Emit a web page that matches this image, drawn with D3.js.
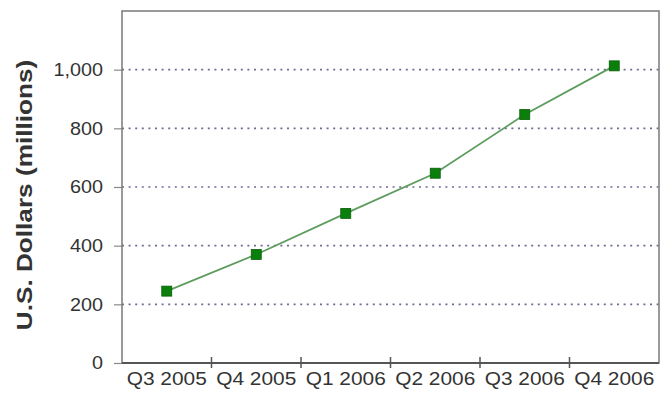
<!DOCTYPE html>
<html>
<head>
<meta charset="utf-8">
<script src="https://cdn.jsdelivr.net/npm/d3@7"></script>
<style>
  html, body { margin: 0; padding: 0; background: #fff; }
  svg { display: block; font-family: "Liberation Sans", Arial, sans-serif; }
</style>
</head>
<body>
<svg id="chart" width="670" height="394"></svg>
<script>
// Quarterly revenue, U.S. dollars (millions)
const quarters = ["Q3 2005", "Q4 2005", "Q1 2006", "Q2 2006", "Q3 2006", "Q4 2006"];
const revenue = [245, 370, 510, 647, 847, 1013];
const yTicks = [0, 200, 400, 600, 800, 1000];
const yMax = 1200;

const svg = d3.select("#chart");
const margin = { left: 122, right: 11, top: 11, bottom: 31 };
const W = 670, H = 394;
const innerW = W - margin.left - margin.right;
const innerH = H - margin.top - margin.bottom;

const x = d3.scaleBand().domain(quarters).range([0, innerW]);
const y = d3.scaleLinear().domain([0, yMax]).range([innerH, 0]);

const g = svg.append("g").attr("transform", `translate(${margin.left},${margin.top})`);

// dotted horizontal gridlines
g.append("g").selectAll("line")
  .data(yTicks.filter(d => d > 0))
  .join("line")
  .attr("x1", 0).attr("x2", innerW)
  .attr("y1", d => y(d)).attr("y2", d => y(d))
  .attr("stroke", "#6c6c96")
  .attr("stroke-width", 1.7)
  .attr("stroke-dasharray", "2,4.6");

// left axis: short outside ticks, wide-set labels
const yAxis = g.append("g")
  .call(d3.axisLeft(y).tickValues(yTicks).tickSize(8)
        .tickFormat(d3.format(",")));
yAxis.select(".domain").remove();
yAxis.selectAll(".tick line").attr("stroke", "#888").attr("stroke-width", 1.2);
yAxis.selectAll(".tick text")
  .attr("x", 0)
  .attr("transform", "translate(-19,0) scale(1.1,1)")
  .attr("fill", "#333")
  .style("font-size", "18px")
  .style("font-family", "'Liberation Sans', Arial, sans-serif");

// frame around the plot area
g.append("rect")
  .attr("x", 0).attr("y", 0).attr("width", innerW).attr("height", innerH)
  .attr("fill", "none").attr("stroke", "#7a7a7a").attr("stroke-width", 1.5);

// bottom axis: ticks sit on the band boundaries
const bounds = quarters.slice(1).map(q => x(q));
g.append("line")
  .attr("x1", 0).attr("x2", innerW).attr("y1", innerH).attr("y2", innerH)
  .attr("stroke", "#555").attr("stroke-width", 2);
g.append("g").selectAll("line")
  .data(bounds)
  .join("line")
  .attr("x1", d => d).attr("x2", d => d)
  .attr("y1", innerH - 6).attr("y2", innerH + 5)
  .attr("stroke", "#555").attr("stroke-width", 1.5);

g.append("g").selectAll("text")
  .data(quarters)
  .join("text")
  .attr("transform", d => `translate(${x(d) + x.bandwidth() / 2},${innerH + 22}) scale(1.16,1)`)
  .attr("text-anchor", "middle")
  .attr("fill", "#333")
  .style("font-size", "18px")
  .text(d => d);

// revenue line and square markers
const cx = d => x(d) + x.bandwidth() / 2;
const pts = quarters.map((q, i) => [cx(q), y(revenue[i])]);

g.append("path")
  .datum(pts)
  .attr("fill", "none")
  .attr("stroke", "#5e9c5e")
  .attr("stroke-width", 1.8)
  .attr("d", d3.line());

const ms = 10;
g.append("g").selectAll("rect")
  .data(pts)
  .join("rect")
  .attr("x", d => d[0] - ms / 2).attr("y", d => d[1] - ms / 2)
  .attr("width", ms).attr("height", ms)
  .attr("fill", "#0b7f0b")
  .attr("stroke", "#0a5f0a").attr("stroke-width", 0.8);

// y-axis title
svg.append("text")
  .attr("transform", `translate(32,195) rotate(-90) scale(1.19,1)`)
  .attr("text-anchor", "middle")
  .attr("fill", "#333")
  .style("font-size", "22px")
  .style("font-weight", "bold")
  .text("U.S. Dollars (millions)");
</script>
</body>
</html>
